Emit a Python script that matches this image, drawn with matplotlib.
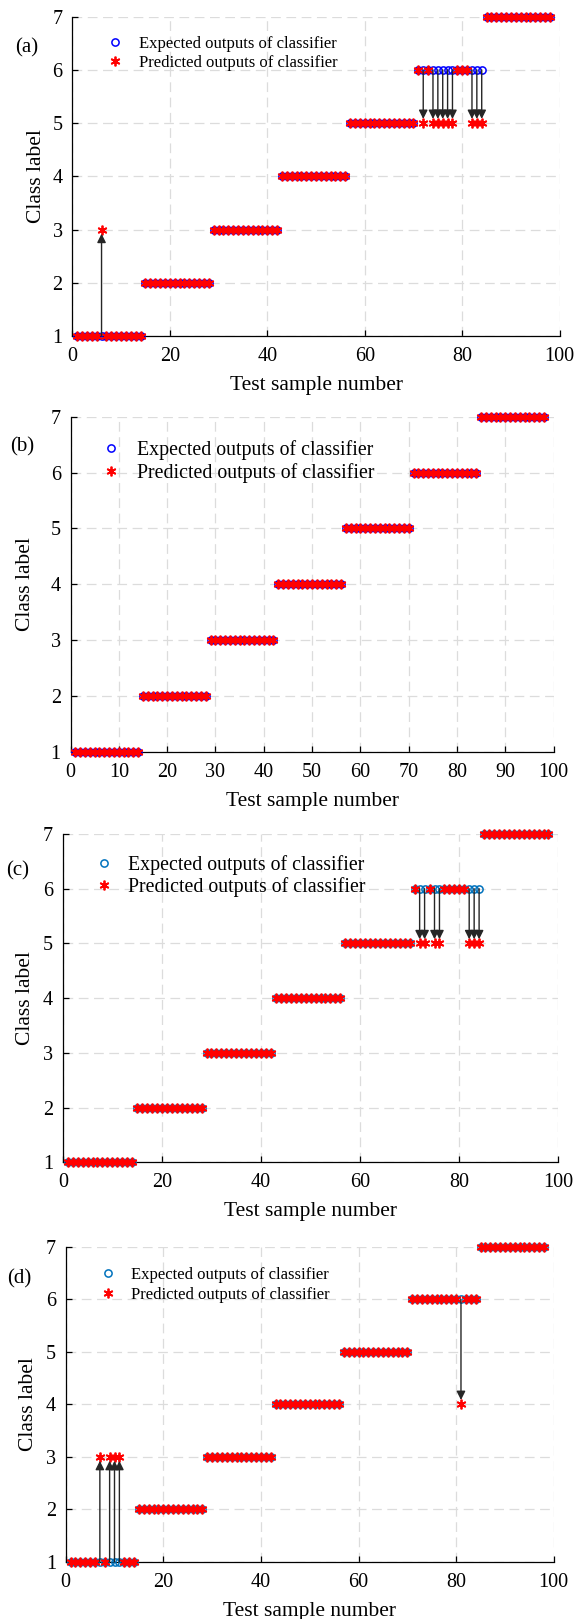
import numpy as np
import matplotlib
matplotlib.use("Agg")
import matplotlib.pyplot as plt

plt.rcParams['font.family'] = ['Liberation Serif', 'DejaVu Serif']
plt.rcParams['lines.scale_dashes'] = False

# test set: 7 classes, 14 samples each
class_labels = [1, 2, 3, 4, 5, 6, 7]
samples_per_class = [14, 14, 14, 14, 14, 14, 14]

# misclassified samples (sample number, predicted label) for each panel
err_a_idx = [6, 72, 74, 75, 76, 77, 78, 82, 83, 84]
err_a_pred = [3, 5, 5, 5, 5, 5, 5, 5, 5, 5]
err_b_idx = []
err_b_pred = []
err_c_idx = [72, 73, 75, 76, 82, 83, 84]
err_c_pred = [5, 5, 5, 5, 5, 5, 5]
err_d_idx = [7, 9, 10, 11, 81]
err_d_pred = [3, 3, 3, 3, 4]

expected = np.repeat(class_labels, samples_per_class)
sample_no = np.arange(1, len(expected) + 1)

W, H = 576, 1619
fig = plt.figure(figsize=(W / 100, H / 100), dpi=100)


def px_axes(l, t, r, b):
    return fig.add_axes([l / W, 1 - b / H, (r - l) / W, (b - t) / H])


# pixel boxes, panel label, legend settings, x tick step, circle colour
panels = [
    dict(box=(72.3, 16.7, 559.7, 336), tag='(a)', tag_xy=(27, 48), err=(err_a_idx, err_a_pred),
         leg_fs=12, leg_xy=(115, 46), leg_gap=23.3, leg_txt=139, step=20, ccol='#0000ff',
         ylab_x=46),
    dict(box=(70.5, 416.7, 553.6, 751.7), tag='(b)', tag_xy=(22, 447), err=(err_b_idx, err_b_pred),
         leg_fs=14.3, leg_xy=(111, 451.7), leg_gap=27.3, leg_txt=137, step=10, ccol='#0000ff',
         ylab_x=35),
    dict(box=(62.8, 834, 558.4, 1162.3), tag='(c)', tag_xy=(17.5, 871), err=(err_c_idx, err_c_pred),
         leg_fs=14.3, leg_xy=(104, 867.3), leg_gap=26, leg_txt=128.5, step=20, ccol='#0072bd',
         ylab_x=35),
    dict(box=(65.7, 1246.7, 553.7, 1561.7), tag='(d)', tag_xy=(19, 1279), err=(err_d_idx, err_d_pred),
         leg_fs=12, leg_xy=(107.7, 1277.3), leg_gap=23.7, leg_txt=131.4, step=20, ccol='#0072bd',
         ylab_x=38),
]

for p in panels:
    l, t, r, b = p['box']
    ax = px_axes(l, t, r, b)
    idx, pred = p['err']
    predicted = expected.copy()
    for i, v in zip(idx, pred):
        predicted[i - 1] = v

    ax.plot(sample_no, expected, linestyle='none', marker='o', mfc='none', mec=p['ccol'],
            ms=5.2, mew=1.1, clip_on=False, zorder=3, label='Expected outputs of classifier')
    ax.plot(sample_no, predicted, linestyle='none', marker=(6, 2, 0), color='#ff0000',
            ms=7, mew=1.3, clip_on=False, zorder=4, label='Predicted outputs of classifier')

    for i, v in zip(idx, pred):
        ax.annotate('', xy=(i, v), xytext=(i, expected[i - 1]), zorder=5,
                    arrowprops=dict(arrowstyle='-|>', color='0.15', lw=1.0,
                                    mutation_scale=13, shrinkA=0, shrinkB=3))

    ax.set_xlim(0, 100)
    ax.set_ylim(1, 7)
    ax.set_xticks(np.arange(0, 101, p['step']))
    ax.set_yticks(class_labels)
    ax.grid(True, linestyle=(0, (7, 4)), color='#dcdcdc', lw=0.9)
    ax.set_axisbelow(True)
    for s in ['top', 'right']:
        ax.spines[s].set_visible(False)
    for s in ['left', 'bottom']:
        ax.spines[s].set_linewidth(0.9)
    ax.tick_params(direction='in', length=4, width=0.9, labelsize=14.5)
    ax.tick_params(axis='x', pad=8)
    ax.tick_params(axis='y', pad=7)
    ax.set_xlabel('Test sample number', fontsize=15.5, labelpad=7)
    ax.set_ylabel('Class label', fontsize=15.5)
    ax.yaxis.set_label_coords((p['ylab_x'] - l) / (r - l), 0.5)

    fs_px = p['leg_fs'] * 100 / 72
    row_h = 1.2 * fs_px
    lsp = (p['leg_gap'] - row_h) / fs_px
    htp = (p['leg_txt'] - p['leg_xy'][0] - 0.5 * fs_px) / fs_px
    lx = p['leg_xy'][0] - 0.5 * fs_px
    ly = p['leg_xy'][1] - 0.5 * row_h
    ax.legend(loc='upper left', bbox_to_anchor=(lx / W, 1 - ly / H), bbox_transform=fig.transFigure,
              frameon=False, fontsize=p['leg_fs'], borderpad=0, borderaxespad=0,
              handlelength=1.0, handletextpad=htp, labelspacing=lsp)

    fig.text(p['tag_xy'][0] / W, 1 - p['tag_xy'][1] / H, p['tag'], fontsize=15,
             ha='center', va='center')

fig.savefig('out.png', dpi=100)
